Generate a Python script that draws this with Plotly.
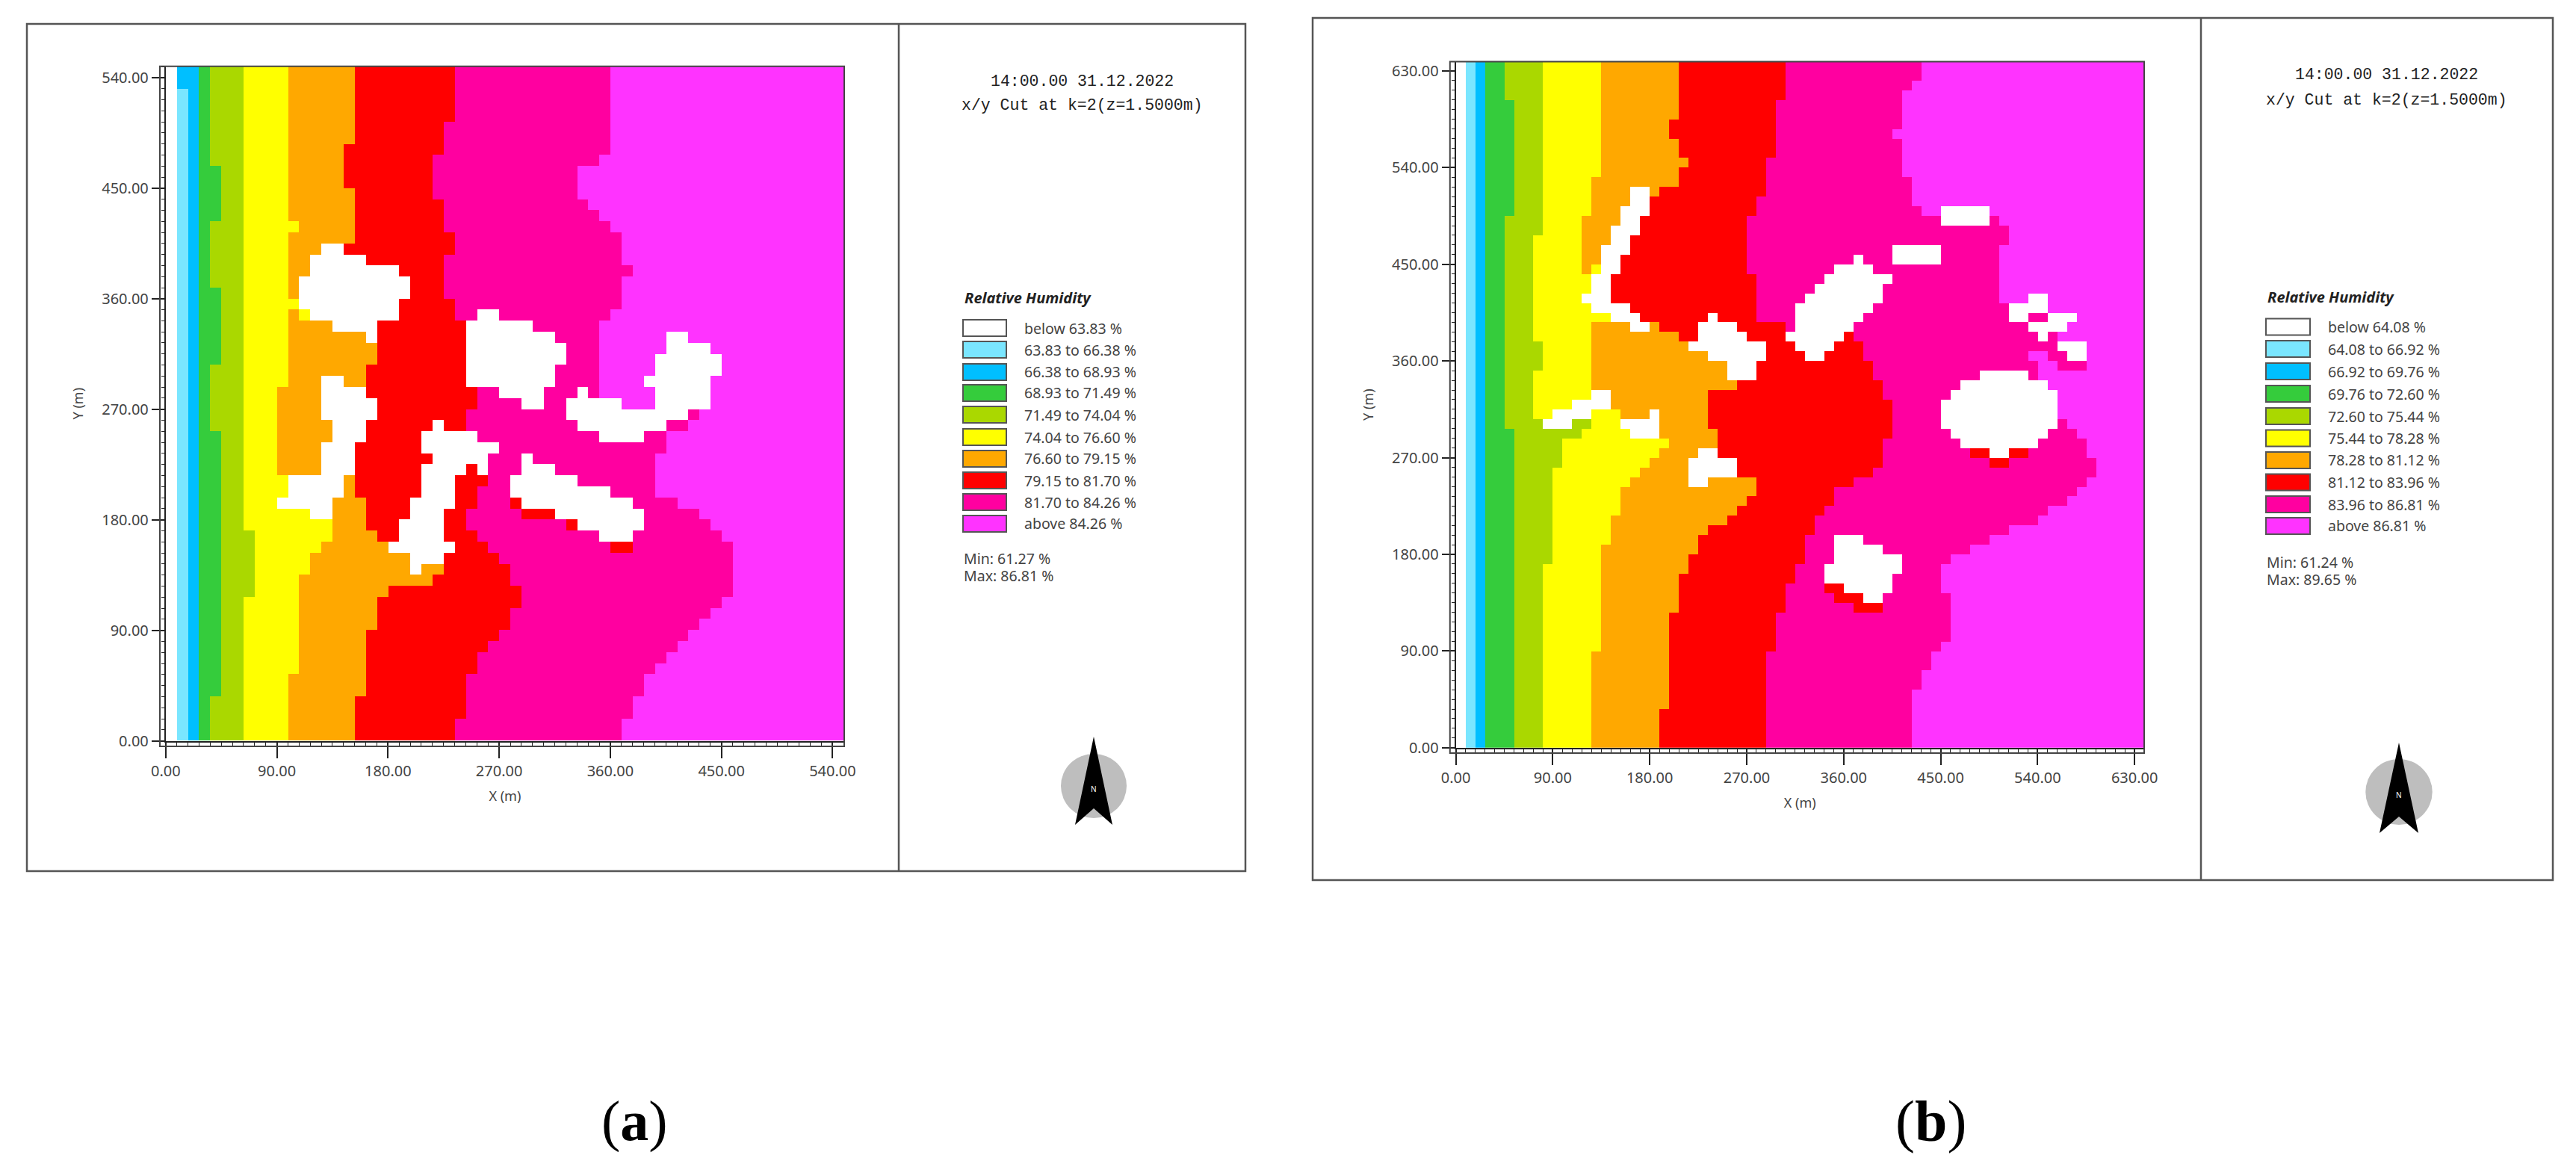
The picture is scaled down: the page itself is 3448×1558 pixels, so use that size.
import numpy as np
import plotly.graph_objects as go

W = 3448
H = 1558
# the page keeps the browser's default body margin
PAGE_MARGIN = 8
FIG_W = W - 2 * PAGE_MARGIN
FIG_H = H - 2 * PAGE_MARGIN

COLORS = ['#FFFFFF', '#7AE6FF', '#00BFFF', '#35CC3C', '#AAD800', '#FFFF00', '#FFA800', '#FF0000', '#FF00A0', '#FF33FF']

A_LABELS = ['below 63.83 %', '63.83 to 66.38 %', '66.38 to 68.93 %', '68.93 to 71.49 %', '71.49 to 74.04 %',
            '74.04 to 76.60 %', '76.60 to 79.15 %', '79.15 to 81.70 %', '81.70 to 84.26 %', 'above 84.26 %']
B_LABELS = ['below 64.08 %', '64.08 to 66.92 %', '66.92 to 69.76 %', '69.76 to 72.60 %', '72.60 to 75.44 %',
            '75.44 to 78.28 %', '78.28 to 81.12 %', '81.12 to 83.96 %', '83.96 to 86.81 %', 'above 86.81 %']
A_MINMAX = ['Min: 61.27 %', 'Max: 86.81 %']
B_MINMAX = ['Min: 61.24 %', 'Max: 89.65 %']
TIME_LABEL = '14:00.00 31.12.2022'
CUT_LABEL = 'x/y Cut at k=2(z=1.5000m)'

CELL = 9
A_CELLS = 61
B_CELLS = 71

# band edges per row of cells, (first row, first column of the band), bottom row is 0
A_LIGHT = [(0, 1)]
A_BLUE = [(0, 2), (59, 1)]
A_GREEN = [(0, 3)]
A_OLIVE = [(0, 4), (4, 5), (28, 4), (34, 5), (41, 4), (47, 5), (52, 4)]
A_YELLOW = [(0, 7), (13, 8), (19, 7)]
A_ORANGE = [(0, 11), (6, 12), (15, 13), (17, 14), (18, 15), (24, 10), (32, 11), (39, 12), (40, 11), (46, 12), (47, 11)]
A_RED = [(0, 17), (4, 18), (10, 19), (13, 20), (14, 24), (15, 25), (17, 20), (18, 19), (19, 18), (22, 17), (27, 18),
         (29, 19), (31, 18), (34, 19), (38, 16), (45, 17), (50, 16), (54, 17)]
A_PINK = [(0, 26), (2, 27), (6, 28), (8, 29), (9, 30), (10, 31), (12, 32), (14, 31), (16, 30), (17, 29), (18, 28),
          (19, 27), (21, 28), (23, 29), (26, 30), (27, 28), (28, 27), (30, 28), (32, 27), (38, 26), (40, 25),
          (44, 26), (46, 25), (49, 24), (53, 25), (56, 26)]
A_MAGENTA = [(0, 41), (2, 42), (4, 43), (6, 44), (7, 45), (8, 46), (9, 47), (10, 48), (11, 49), (12, 50), (13, 51),
             (18, 50), (19, 49), (20, 48), (21, 46), (22, 44), (26, 45), (28, 47), (29, 48), (30, 39), (38, 40),
             (39, 41), (42, 42), (43, 41), (46, 40), (47, 39), (48, 38), (49, 37), (52, 39), (53, 40)]
# runs below the lowest class, (row, first column, end column)
A_WHITE = [(44, 14, 16), (43, 13, 18), (42, 13, 21), (41, 12, 22), (40, 12, 22), (39, 12, 21), (38, 13, 21), (37, 15, 19),
           (36, 18, 19),
           (32, 14, 16), (31, 14, 18), (30, 14, 19), (29, 14, 19), (28, 15, 18), (27, 15, 18), (26, 14, 17), (25, 14, 17),
           (24, 14, 17), (23, 11, 16), (22, 11, 16), (21, 10, 15), (20, 13, 15),
           (28, 24, 25), (27, 23, 28), (26, 23, 30), (25, 24, 29), (24, 23, 27), (24, 28, 29), (23, 23, 26), (22, 23, 26),
           (21, 22, 26), (20, 22, 25), (19, 21, 25), (18, 21, 25), (17, 20, 26), (16, 22, 25), (15, 22, 23),
           (38, 28, 30), (37, 27, 33), (36, 27, 35), (35, 27, 36), (34, 27, 36), (33, 27, 35), (32, 27, 35), (31, 30, 34),
           (30, 32, 34),
           (31, 37, 38), (30, 36, 41), (29, 36, 47), (28, 37, 45), (27, 39, 43),
           (36, 45, 47), (35, 45, 49), (34, 44, 50), (33, 44, 50), (32, 43, 49), (31, 44, 49), (30, 44, 49),
           (25, 32, 33), (24, 32, 35), (23, 31, 37), (22, 31, 40), (21, 32, 42), (20, 35, 43), (19, 37, 43), (18, 39, 42)]
# small pockets of another class, (row, first column, end column, class)
A_POCKETS = [(38, 12, 13, 5), (21, 31, 32, 7), (20, 32, 35, 7), (19, 36, 37, 7), (17, 40, 42, 7)]

B_LIGHT = [(0, 1)]
B_BLUE = [(0, 2)]
B_GREEN = [(0, 3)]
B_OLIVE = [(0, 6), (33, 5), (55, 6), (67, 5)]
B_YELLOW = [(0, 9), (19, 10), (29, 11), (32, 13), (33, 14), (34, 8), (39, 9), (42, 8), (53, 9)]
B_ORANGE = [(0, 14), (10, 15), (21, 16), (24, 17), (27, 18), (28, 19), (29, 20), (30, 21), (31, 22), (32, 18), (33, 17),
            (35, 16), (36, 14), (44, 16), (45, 14), (49, 13), (55, 14), (59, 15)]
B_RED = [(0, 21), (4, 22), (14, 23), (18, 24), (20, 25), (22, 26), (23, 28), (24, 29), (25, 30), (26, 31), (28, 29),
         (30, 27), (33, 26), (37, 29), (38, 28), (40, 26), (41, 24), (42, 23), (43, 21), (44, 19), (45, 18), (46, 16),
         (49, 17), (51, 18), (53, 19), (55, 20), (57, 21), (58, 23), (60, 24), (61, 23), (63, 22), (65, 23)]
B_PINK = [(0, 32), (10, 33), (14, 34), (17, 35), (19, 36), (22, 37), (24, 38), (25, 39), (27, 41), (28, 43), (29, 44),
          (32, 45), (36, 44), (38, 43), (40, 42), (42, 41), (43, 34), (44, 31), (49, 30), (55, 31), (57, 32), (61, 33),
          (67, 34)]
B_MAGENTA = [(0, 47), (6, 48), (8, 49), (10, 50), (11, 51), (16, 50), (19, 51), (20, 53), (21, 55), (22, 57), (23, 60),
             (24, 61), (25, 63), (26, 64), (27, 65), (28, 66), (30, 65), (32, 64), (33, 63), (34, 62), (37, 61), (38, 60),
             (40, 59), (41, 62), (43, 60), (44, 61), (45, 57), (46, 56), (52, 57), (54, 56), (55, 48), (56, 47), (59, 46),
             (63, 45), (64, 46), (68, 47), (69, 48)]
B_WHITE = [(57, 18, 20), (56, 18, 20), (55, 17, 20), (54, 17, 19), (53, 16, 19), (52, 16, 18), (51, 15, 18), (50, 15, 17),
           (49, 15, 17), (48, 14, 16), (47, 14, 16), (46, 13, 16), (45, 14, 18), (44, 16, 19), (43, 18, 20),
           (34, 20, 21), (33, 17, 21), (32, 18, 21),
           (36, 14, 16), (35, 12, 16), (34, 10, 14), (33, 9, 12),
           (30, 25, 27), (29, 24, 29), (28, 24, 29), (27, 24, 26),
           (44, 26, 27), (43, 25, 29), (42, 25, 30), (41, 24, 32), (40, 26, 32), (39, 28, 31), (38, 28, 31),
           (50, 41, 42), (49, 39, 43), (48, 38, 45), (47, 37, 44), (46, 36, 44), (45, 35, 43), (44, 35, 42), (43, 35, 41),
           (42, 34, 40), (41, 35, 39), (40, 36, 38),
           (21, 39, 42), (20, 39, 44), (19, 39, 46), (18, 38, 46), (17, 38, 45), (16, 40, 45), (15, 42, 44),
           (55, 50, 55), (54, 50, 55), (51, 45, 50), (50, 45, 50),
           (46, 59, 61), (45, 57, 61), (44, 57, 59), (44, 61, 64), (43, 59, 63), (42, 60, 61), (41, 62, 65), (40, 63, 65),
           (38, 54, 59), (37, 52, 61), (36, 51, 62), (35, 50, 62), (34, 50, 62), (33, 50, 62), (32, 51, 61), (31, 52, 60),
           (30, 55, 57)]
B_POCKETS = [(49, 14, 15, 5), (39, 62, 65, 8), (40, 61, 63, 8), (44, 59, 61, 8), (16, 38, 40, 7), (15, 39, 42, 7),
             (14, 41, 44, 7), (30, 53, 55, 7), (30, 57, 59, 7), (29, 55, 57, 7)]


def expand(steps, n):
    out = np.zeros(n, dtype=int)
    for row, col in steps:
        out[row:] = col
    return out


def build_grid(n, bands, white, pockets):
    z = np.zeros((n, n), dtype=int)
    for code, steps in enumerate(bands, start=1):
        edge = expand(steps, n)
        for r in range(n):
            z[r, edge[r]:] = code
    for r, c0, c1 in white:
        z[r, c0:c1] = 0
    for r, c0, c1, code in pockets:
        z[r, c0:c1] = code
    return z


a_z = build_grid(A_CELLS, [A_LIGHT, A_BLUE, A_GREEN, A_OLIVE, A_YELLOW, A_ORANGE, A_RED, A_PINK, A_MAGENTA], A_WHITE, A_POCKETS)
b_z = build_grid(B_CELLS, [B_LIGHT, B_BLUE, B_GREEN, B_OLIVE, B_YELLOW, B_ORANGE, B_RED, B_PINK, B_MAGENTA], B_WHITE, B_POCKETS)


def fx(px):
    return (px - PAGE_MARGIN) / FIG_W


def fy(py):
    return 1 - (py - PAGE_MARGIN) / FIG_H


colorscale = []
for i, c in enumerate(COLORS):
    colorscale.append([i / 10, c])
    colorscale.append([(i + 1) / 10, c])

fig = go.Figure()
for name, z, n in [('', a_z, A_CELLS), ('2', b_z, B_CELLS)]:
    centers = [CELL * i + CELL / 2 for i in range(n)]
    fig.add_trace(go.Heatmap(z=z, x=centers, y=centers, zmin=0, zmax=10, colorscale=colorscale,
                             showscale=False, hoverinfo='skip', xaxis='x' + name, yaxis='y' + name))

TICK_FONT = dict(family='Noto Sans', size=20, color='#444444')


def axis(domain, top, major, ticklen, anchor, title, standoff):
    return dict(domain=domain, range=[0, top], anchor=anchor, tick0=0, dtick=major, tickformat='.2f', automargin=False,
                ticks='outside', ticklen=ticklen, tickwidth=2, tickcolor='#222222', showline=True,
                linecolor='#222222', linewidth=2, showgrid=False, zeroline=False, tickfont=TICK_FONT,
                minor=dict(tick0=0, dtick=CELL, ticks='outside', ticklen=4, tickwidth=1, tickcolor='#222222', showgrid=False),
                title=dict(text=title, font=dict(family='Noto Sans', size=18, color='#444444'), standoff=standoff))


fig.update_layout(
    width=FIG_W, height=FIG_H, margin=dict(l=0, r=0, t=0, b=0), paper_bgcolor='white', plot_bgcolor='white',
    xaxis=axis([fx(221.8), fx(1130)], 549.4, 90, 21, 'y', 'X (m)', 16),
    yaxis=axis([fy(991.6), fy(88.8)], 549.2, 90, 17, 'x', 'Y (m)', 20),
    xaxis2=axis([fx(1948.6), fx(2870)], 638.9, 90, 21, 'y2', 'X (m)', 16),
    yaxis2=axis([fy(1000.8), fy(82.6)], 638.6, 90, 17, 'x2', 'Y (m)', 20),
)

shapes = []
annotations = []


def line(x0, y0, x1, y1, color, width):
    shapes.append(dict(type='line', xref='paper', yref='paper', x0=fx(x0), y0=fy(y0), x1=fx(x1), y1=fy(y1),
                       line=dict(color=color, width=width)))


def label(x, y, text, size, family='Noto Sans', color='#444444', anchor='left'):
    annotations.append(dict(x=fx(x), y=fy(y), xref='paper', yref='paper', text=text, showarrow=False, xanchor=anchor,
                            yanchor='middle', font=dict(family=family, size=size, color=color)))


def panel(frame, divider, box, title_x, title_y, legend_x, legend_ys, text_x, swatch_w, legend_title_y, labels, minmax, minmax_x, minmax_y, north):
    left, top, right, bottom = frame
    shapes.append(dict(type='rect', xref='paper', yref='paper', x0=fx(left), y0=fy(top), x1=fx(right), y1=fy(bottom),
                       line=dict(color='#555555', width=2.5)))
    line(divider, top, divider, bottom, '#555555', 2.5)
    # plot frame round the two axes
    bl, bt, br, bb = box
    shapes.append(dict(type='rect', xref='paper', yref='paper', x0=fx(bl), y0=fy(bt), x1=fx(br), y1=fy(bb),
                       line=dict(color='#444444', width=2)))

    label(title_x, title_y[0], TIME_LABEL, 21.5, 'Liberation Mono', '#222222', 'center')
    label(title_x, title_y[1], CUT_LABEL, 21.5, 'Liberation Mono', '#222222', 'center')
    label(legend_x, legend_title_y, '<b><i>Relative Humidity</i></b>', 20, color='#222222')
    for y, color, text in zip(legend_ys, COLORS, labels):
        shapes.append(dict(type='rect', xref='paper', yref='paper', x0=fx(legend_x), x1=fx(legend_x + swatch_w),
                           y0=fy(y - 11), y1=fy(y + 11), fillcolor=color, line=dict(color='#555555', width=2)))
        label(text_x, y, text, 19.5)
    label(minmax_x, minmax_y[0], minmax[0], 19.5)
    label(minmax_x, minmax_y[1], minmax[1], 19.5)

    cx, cy, rx, ry, tip, wing, notch = north
    shapes.append(dict(type='circle', xref='paper', yref='paper', x0=fx(cx - rx), x1=fx(cx + rx), y0=fy(cy - ry), y1=fy(cy + ry),
                       fillcolor='#BEBEBE', line=dict(width=0)))
    path = 'M %f %f L %f %f L %f %f L %f %f Z' % (fx(cx), fy(tip), fx(cx - wing), fy(notch + 22), fx(cx), fy(notch), fx(cx + wing), fy(notch + 22))
    shapes.append(dict(type='path', xref='paper', yref='paper', path=path, fillcolor='#000000', line=dict(width=0)))
    label(cx, cy + 4, 'N', 10, 'Noto Sans', '#FFFFFF', 'center')


panel((36, 32, 1667, 1166), 1203, (214, 88.8, 1130, 999), 1448, (109, 141), 1289,
      [439, 468, 498, 526, 555, 585, 614, 643, 672, 701], 1369, 58, 398, A_LABELS, A_MINMAX, 1288, (747, 770),
      (1464, 1052, 44, 43, 986, 25, 1082))
panel((1757, 24, 3417, 1178), 2946, (1940.8, 82.6, 2870, 1008), 3194, (100, 134), 3033,
      [437.5, 467, 497, 527, 557, 586.5, 616, 645.5, 675, 704], 3114, 59, 397, B_LABELS, B_MINMAX, 3032, (752, 775),
      (3211, 1060, 44.7, 44, 994, 26, 1093))

label(849.5, 1500, '(<b>a</b>)', 76, 'Liberation Serif', '#000000', 'center')
label(2584, 1500, '(<b>b</b>)', 78, 'Liberation Serif', '#000000', 'center')

fig.update_layout(shapes=shapes, annotations=annotations)
fig.write_html("out.html")
